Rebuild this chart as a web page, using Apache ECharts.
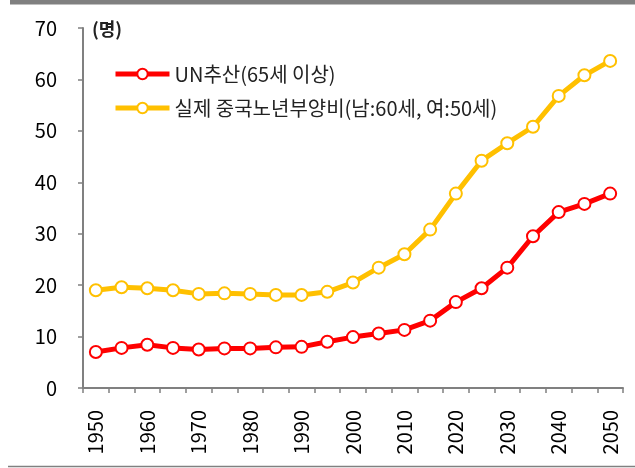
<!DOCTYPE html>
<html>
<head>
<meta charset="utf-8">
<script src="https://cdn.jsdelivr.net/npm/echarts@6/dist/echarts.min.js"></script>
<style>
html,body{margin:0;padding:0;background:#fff;}
#chart{width:635px;height:468px;}
</style>
</head>
<body>
<div id="chart"></div>
<script>
const years = ['1950','1955','1960','1965','1970','1975','1980','1985','1990','1995','2000','2005','2010','2015','2020','2025','2030','2035','2040','2045','2050'];
const unName = 'UN추산(65세 이상)';
const realName = '실제 중국노년부양비(남:60세, 여:50세)';
const unValues = [7.0, 7.8, 8.4, 7.8, 7.5, 7.7, 7.7, 7.9, 8.0, 9.0, 9.9, 10.6, 11.3, 13.1, 16.7, 19.4, 23.4, 29.5, 34.2, 35.8, 37.8];
const realValues = [19.0, 19.6, 19.4, 19.0, 18.3, 18.4, 18.3, 18.1, 18.1, 18.7, 20.5, 23.4, 26.0, 30.8, 37.8, 44.2, 47.6, 50.8, 56.8, 60.8, 63.6];
const unit = '(명)';

const FONT = '"Noto Sans CJK KR", "Noto Sans", sans-serif';
const chart = echarts.init(document.getElementById('chart'));
chart.setOption({
  animation: false,
  backgroundColor: '#fff',
  textStyle: { fontFamily: FONT },
  grid: { left: 83, right: 12, top: 28, bottom: 80 },
  legend: {
    orient: 'vertical',
    left: 108,
    top: 59,
    itemWidth: 54,
    itemHeight: 13,
    itemGap: 14,
    lineStyle: { width: 5 },
    textStyle: { fontFamily: FONT, fontSize: 20, color: '#222' },
    data: [unName, realName]
  },
  graphic: [
    { type: 'rect', shape: { x: 10, y: 0, width: 625, height: 4.5 }, style: { fill: '#808080' }, silent: true },
    { type: 'line', shape: { x1: 8, y1: 466.5, x2: 635, y2: 466.5 }, style: { stroke: '#808080', lineWidth: 1.5 }, silent: true },
    { type: 'text', left: 92, top: 20, style: { text: unit, font: 'bold 18px ' + FONT, fill: '#222' } }
  ],
  xAxis: {
    type: 'category',
    data: years,
    boundaryGap: true,
    axisLine: { lineStyle: { color: '#808080', width: 2 } },
    axisTick: { show: true, interval: 0, length: 5, lineStyle: { color: '#808080', width: 1.5 } },
    axisLabel: { interval: 1, rotate: 90, margin: 22, fontSize: 20, color: '#000', fontFamily: FONT }
  },
  yAxis: {
    type: 'value',
    min: 0, max: 70, interval: 10,
    splitLine: { show: false },
    axisLine: { show: true, lineStyle: { color: '#808080', width: 2 } },
    axisTick: { show: true, length: 5, lineStyle: { color: '#808080', width: 1.5 } },
    axisLabel: { margin: 26, fontSize: 20, color: '#000', fontFamily: FONT }
  },
  series: [
    {
      name: unName, type: 'line', data: unValues,
      color: '#FF0000',
      symbol: 'circle', symbolSize: 12,
      lineStyle: { color: '#FF0000', width: 5 },
      itemStyle: { color: '#fff', borderColor: '#FF0000', borderWidth: 2 }
    },
    {
      name: realName, type: 'line', data: realValues,
      color: '#FFC000',
      symbol: 'circle', symbolSize: 12,
      lineStyle: { color: '#FFC000', width: 5 },
      itemStyle: { color: '#fff', borderColor: '#FFC000', borderWidth: 2 }
    }
  ]
});
</script>
</body>
</html>
